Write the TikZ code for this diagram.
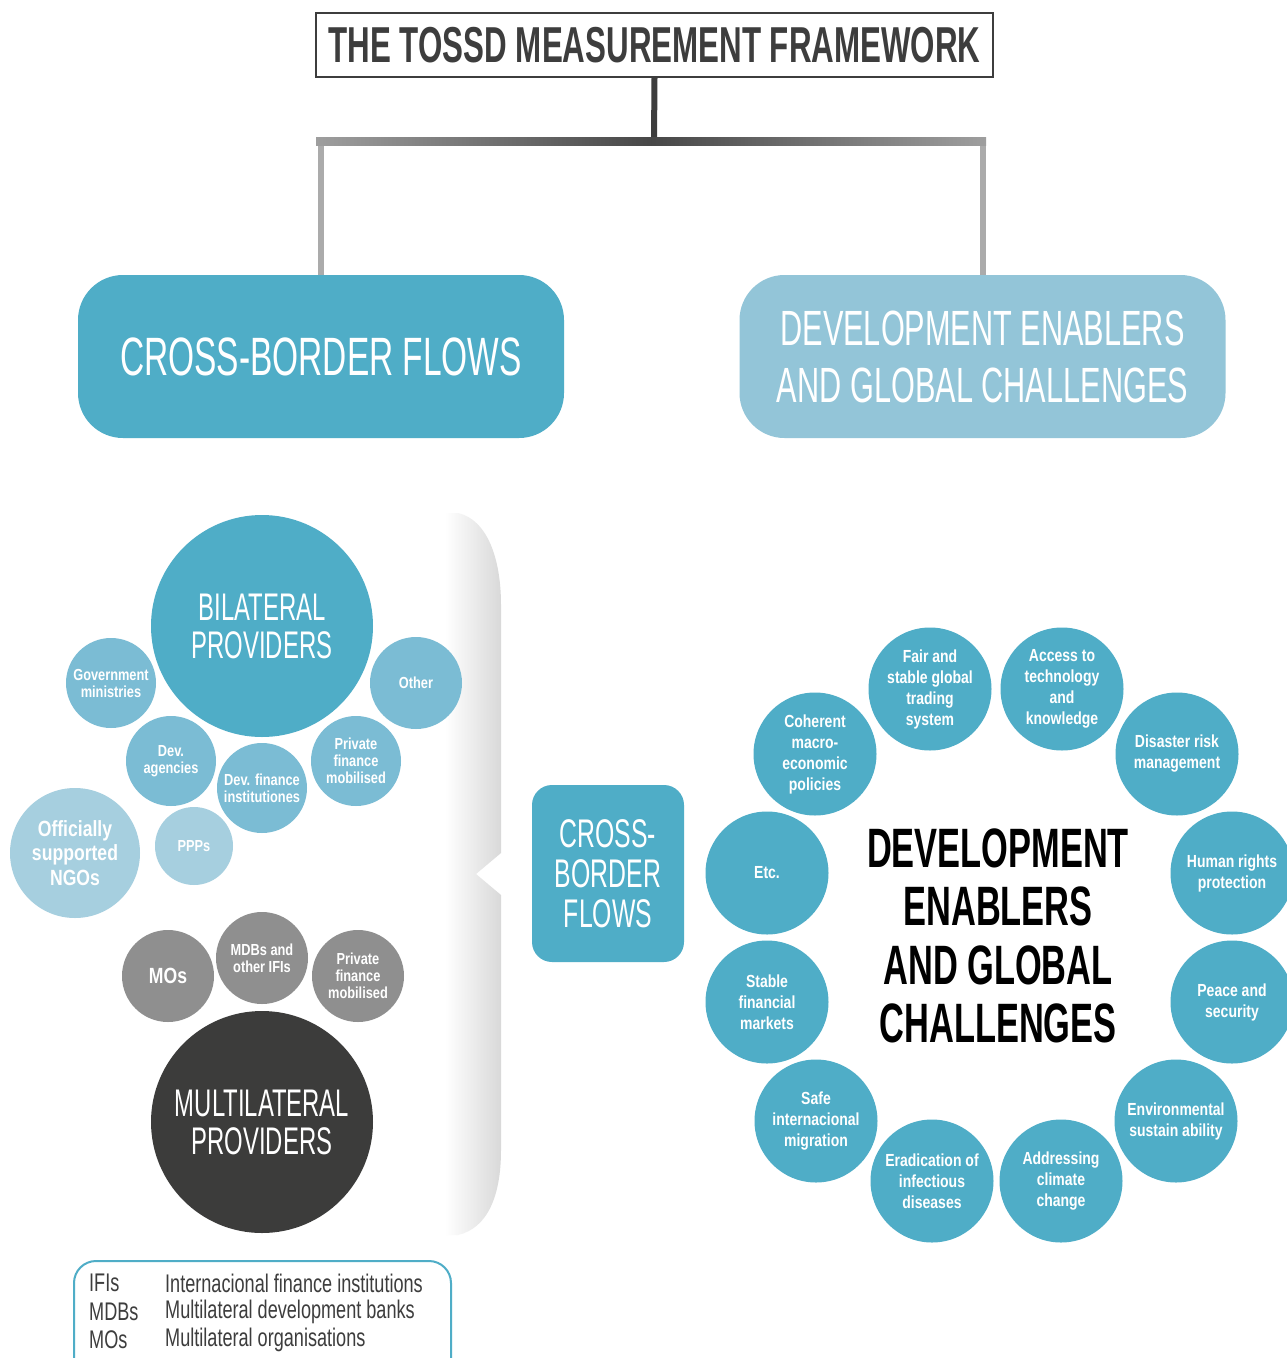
\documentclass[tikz,border=0pt]{standalone}
\usepackage{fontspec}
\setmainfont{Liberation Sans}[FakeStretch=0.62]
\newfontfamily\smallf{Liberation Sans}[FakeStretch=0.8]
\newfontfamily\legf{Liberation Sans}[FakeStretch=0.71]
\definecolor{tealA}{HTML}{4FADC7}
\definecolor{tealL}{HTML}{93C5D8}
\definecolor{tealM}{HTML}{7BBCD4}
\definecolor{tealP}{HTML}{A6CFDF}
\definecolor{grayB}{HTML}{8F8F8F}
\definecolor{darkB}{HTML}{3C3C3B}
\definecolor{titleC}{HTML}{3D3D3D}
\begin{document}
\begin{tikzpicture}[x=1pt,y=-1pt,
  bub/.style={circle, inner sep=0pt, text=white, align=center},
  smtext/.style={font=\smallf\bfseries\fontsize{16}{17}\selectfont},
  leftsm/.style={bub, smtext, fill=tealM, minimum size=90pt},
  grsm/.style={bub, smtext, fill=grayB, minimum size=92pt},
  ring/.style={bub, fill=tealA, minimum size=123pt, font=\smallf\bfseries\fontsize{17.5}{21}\selectfont},
  bigbub/.style={bub, minimum size=222pt, font=\fontsize{38.5}{38}\selectfont},
  topbox/.style={rectangle, rounded corners=45pt, minimum width=486pt, minimum height=163pt, text=white, align=center},
  grayline/.style={line width=6pt, black!33},
  legtext/.style={anchor=west, inner sep=0pt, text=titleC, font=\legf\fontsize{25.5}{28}\selectfont}
]
\useasboundingbox (0,0) rectangle (1287,1358);
\fill[white] (0,0) rectangle (1287,1358);

% title and top boxes
\node[draw=titleC, line width=1.3pt, minimum width=677pt, minimum height=64pt, inner sep=0pt,
      text=titleC, font=\bfseries\fontsize{50.5}{50}\selectfont] (title) at (654.5,45) {THE TOSSD MEASUREMENT FRAMEWORK};
\node[topbox, fill=tealA, font=\fontsize{54}{57}\selectfont] (cbf) at (321,356.5) {CROSS-BORDER FLOWS};
\node[topbox, fill=tealL, font=\fontsize{49.5}{57}\selectfont] (deg) at (982.5,356.5) {DEVELOPMENT ENABLERS\\AND GLOBAL CHALLENGES};

\coordinate (jn) at (654,141);
\draw[grayline] (cbf.north) -- (cbf.north |- jn);
\draw[grayline] (deg.north) -- (deg.north |- jn);
\draw[line width=6pt, titleC] (title.south) -- (jn);
\shade[left color=black!38, right color=black!38, middle color=black!72] (316,137) rectangle (986,145);

% left panel with shadow
\shade[left color=white, right color=black!15]
  (445,513) -- (458,513) .. controls (488,520) and (501,560) .. (501,605)
  -- (501,853) -- (476,874) -- (501,895) -- (501,1150)
  .. controls (501,1195) and (488,1228) .. (458,1235) -- (445,1235) -- cycle;

% bilateral bubbles
\node[leftsm] (gm) at (111,683) {Government\\ministries};
\node[leftsm, minimum size=92pt] (oth) at (416,683) {Other};
\node[leftsm] (dag) at (171,761) {Dev.\\agencies};
\node[leftsm] (dfi) at (262,788) {Dev. finance\\institutiones};
\node[leftsm] (pfm) at (356,761) {Private\\finance\\mobilised};
\node[bub, fill=tealP, minimum size=130pt, font=\smallf\bfseries\fontsize{22}{24.5}\selectfont] (ngo) at (75,853) {Officially\\supported\\NGOs};
\node[bub, smtext, fill=tealP, minimum size=78pt] (ppp) at (194,846) {PPPs};
\node[bigbub, fill=tealA] (bil) at (262,626) {BILATERAL\\PROVIDERS};

% multilateral bubbles
\node[grsm, font=\smallf\bfseries\fontsize{22}{24}\selectfont] (mos) at (168,976) {MOs};
\node[grsm] (mdb) at (262,958) {MDBs and\\other IFIs};
\node[grsm] (pfm2) at (358,976) {Private\\finance\\mobilised};
\node[bigbub, fill=darkB] (mul) at (262,1122) {MULTILATERAL\\PROVIDERS};

% legend
\draw[tealA, line width=2pt, rounded corners=22pt] (74,1261) rectangle (451,1390);
\node[legtext] (l1a) at (89,1283) {IFIs};
\node[legtext] (l2a) at (89,1312) {MDBs};
\node[legtext] (l3a) at (89,1340) {MOs};
\node[legtext] (l1b) at (165,1283) {Internacional finance institutions};
\node[legtext] (l2b) at (165,1312) {Multilateral development banks};
\node[legtext] (l3b) at (165,1340) {Multilateral organisations};

% centre box
\node[rectangle, rounded corners=20pt, fill=tealA, minimum width=152pt, minimum height=177pt,
      text=white, align=center, font=\fontsize{40}{40}\selectfont] (cbf2) at (608,873.5) {CROSS-\\BORDER\\FLOWS};

% ring of enablers
\node[ring] (r1) at (930,689) {Fair and\\stable global\\trading\\system};
\node[ring] (r2) at (1062,689) {Access to\\technology\\and\\knowledge};
\node[ring] (r3) at (815,754) {Coherent\\macro-\\economic\\policies};
\node[ring] (r4) at (1177,754) {Disaster risk\\management};
\node[ring] (r5) at (767,873) {Etc.};
\node[ring] (r6) at (1232,873) {Human rights\\protection};
\node[ring] (r7) at (767,1002) {Stable\\financial\\markets};
\node[ring] (r8) at (1232,1002) {Peace and\\security};
\node[ring] (r9) at (816,1121) {Safe\\internacional\\migration};
\node[ring] (r10) at (1176,1121) {Environmental\\sustain ability};
\node[ring] (r11) at (932,1181) {Eradication of\\infectious\\diseases};
\node[ring] (r12) at (1061,1181) {Addressing\\climate\\change};

\node[align=center, inner sep=0pt, text=black, font=\bfseries\fontsize{55.5}{58.5}\selectfont] (ctr) at (998,936)
  {DEVELOPMENT\\ENABLERS\\AND GLOBAL\\CHALLENGES};
\end{tikzpicture}
\end{document}
